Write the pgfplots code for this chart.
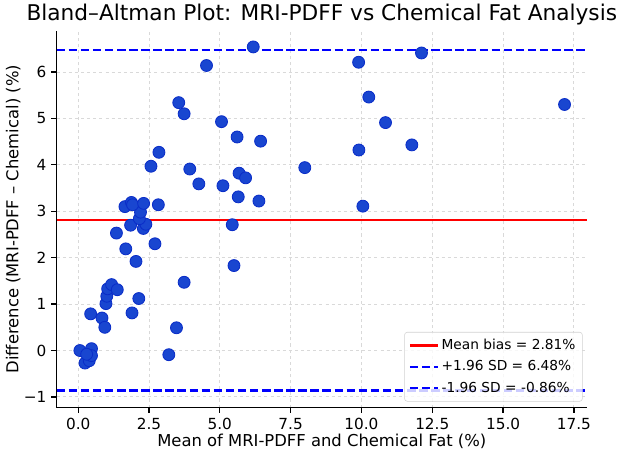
\documentclass[border=0pt]{standalone}
\usepackage{fontspec}
\setmainfont{DejaVu Sans}
\usepackage{pgfplots}
\usepackage{pgfplotstable}
\pgfplotsset{compat=1.18}
\definecolor{ptfill}{RGB}{25,70,208}
\definecolor{ptedge}{RGB}{10,45,200}
\definecolor{lineblue}{RGB}{0,0,255}
\definecolor{linered}{RGB}{255,0,0}

\pgfplotstableread{
x y
0.06 0.00
0.47 0.04
0.24 -0.27
0.39 -0.22
0.47 -0.11
0.30 -0.08
0.44 0.79
0.84 0.70
0.94 0.50
0.98 1.01
1.01 1.17
1.04 1.33
1.18 1.42
1.38 1.31
1.90 0.81
2.14 1.12
2.04 1.92
1.68 2.19
1.35 2.53
2.71 2.30
1.85 2.70
2.30 2.63
2.39 2.72
2.16 2.84
2.20 2.98
1.65 3.10
1.88 3.19
1.92 3.14
2.31 3.17
2.83 3.14
3.20 -0.09
3.47 0.49
3.74 1.47
5.50 1.83
5.44 2.71
2.57 3.97
2.85 4.27
3.94 3.91
4.26 3.59
5.11 3.55
5.65 3.31
6.38 3.22
5.68 3.82
5.91 3.72
5.61 4.60
6.44 4.51
5.06 4.93
3.55 5.34
3.74 5.10
4.53 6.14
6.18 6.54
8.00 3.94
9.90 6.21
12.12 6.41
10.26 5.46
10.85 4.91
9.91 4.32
11.78 4.43
10.05 3.11
17.17 5.30
}\diffdata

\begin{document}
\begin{tikzpicture}
\begin{axis}[
  at={(0,0)}, anchor=south west,
  scale only axis, width=381.8pt, height=271.4pt,
  xmin=-0.76, xmax=17.96, ymin=-1.23, ymax=6.89,
  axis x line*=bottom, axis y line*=left,
  axis line style={line width=0.88pt, -},
  tick align=outside, major tick length=3.85pt,
  tick style={line width=0.88pt, black},
  xtick={0,2.5,5,7.5,10,12.5,15,17.5},
  xticklabels={0.0,2.5,5.0,7.5,10.0,12.5,15.0,17.5},
  ytick={-1,0,1,2,3,4,5,6},
  yticklabels={−1,0,1,2,3,4,5,6},
  /pgf/number format/assume math mode=true,
  tick label style={font=\fontsize{11}{13}\selectfont},
  grid=major,
  major grid style={gray!30, dash pattern=on 2.2pt off 2.2pt, line width=0.7pt},
  title={Bland–Altman Plot: MRI-PDFF vs Chemical Fat Analysis},
  title style={font=\fontsize{15.6}{18}\selectfont, anchor=base, at={(0.5,1)}, yshift=1.5pt},
  xlabel={Mean of MRI-PDFF and Chemical Fat (\%)},
  xlabel style={font=\fontsize{11.8}{14}\selectfont, at={(axis description cs:0.5,0)}, anchor=base, yshift=-28.1pt},
  ylabel={Difference (MRI-PDFF – Chemical) (\%)},
  ylabel style={font=\fontsize{11.8}{14}\selectfont, at={(axis description cs:0,0.5)}, anchor=base, yshift=27.6pt},
  legend cell align=left,
  legend style={at={(0.992,0.016)}, anchor=south east, draw=gray!35, rounded corners=2pt,
    fill=white, fill opacity=0.8, text opacity=1, draw opacity=1,
    font=\fontsize{9.9}{12}\selectfont, row sep=2.5pt, inner sep=3pt},
  legend image code/.code={\draw[#1] (0pt,0pt) -- (20pt,0pt);},
]
\addplot[only marks, mark=*, mark size=4.3pt,
  mark options={fill=ptfill, draw=ptedge, line width=0.6pt}, forget plot]
  table[x=x, y=y] {\diffdata};
\addplot[linered, line width=1.65pt] coordinates {(-0.76,2.81) (17.96,2.81)};
\addlegendentry{Mean bias = 2.81\%}
\addplot[lineblue, line width=1.65pt, dash pattern=on 6.1pt off 2.6pt] coordinates {(-0.76,6.48) (17.96,6.48)};
\addlegendentry{+1.96 SD = 6.48\%}
\addplot[lineblue, line width=1.65pt, dash pattern=on 6.1pt off 2.6pt] coordinates {(-0.76,-0.86) (17.96,-0.86)};
\addlegendentry{-1.96 SD = -0.86\%}
\end{axis}
\pgfresetboundingbox
\path (-40.8pt,-34.1pt) rectangle (408.5pt,293.5pt);
\end{tikzpicture}
\end{document}
